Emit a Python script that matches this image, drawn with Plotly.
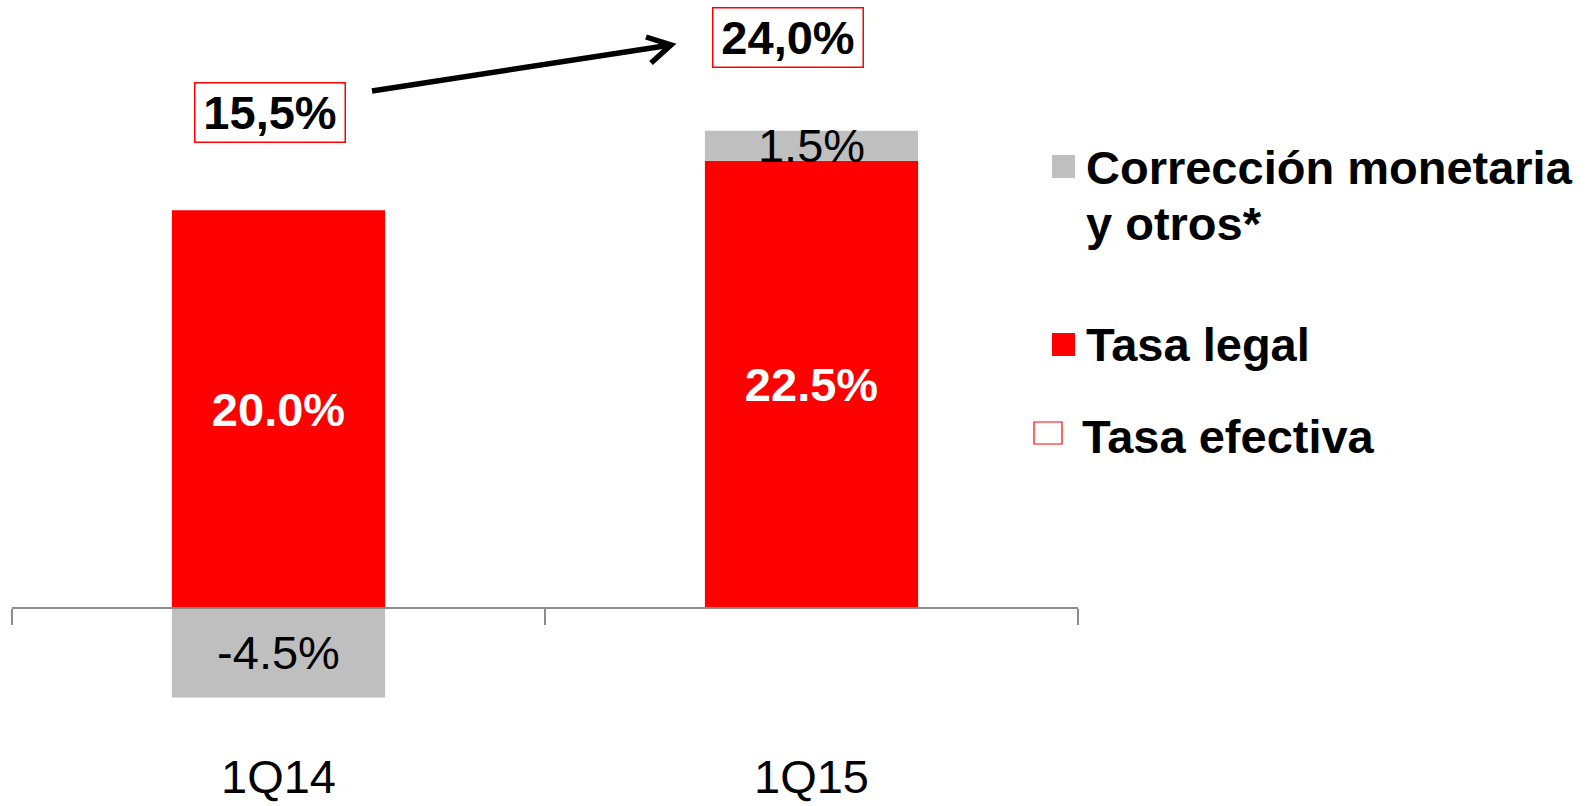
import plotly.graph_objects as go

# Data
periodos = ["1Q14", "1Q15"]
tasa_legal = [20.0, 22.5]
correccion = [-4.5, 1.5]
tasa_efectiva = [15.5, 24.0]

W, H = 1594, 806
PLOT_L, PLOT_R = 12, 1078
FONT = "Liberation Sans, Arial, sans-serif"
FS = 47
RED = "#FF0000"
GREY = "#BFBFBF"
AXIS = "#8C8C8C"

y_min, y_max = -9.96, 30.58

fig = go.Figure()
fig.add_trace(go.Bar(
    x=periodos, y=tasa_legal, name="Tasa legal",
    marker=dict(color=RED, line=dict(width=0)),
    texttemplate="<b>%{y:.1f}%</b>", textposition="inside",
    insidetextanchor="middle", constraintext="none",
    textfont=dict(color="white", size=FS, family=FONT),
    showlegend=False, hoverinfo="skip",
))
fig.add_trace(go.Bar(
    x=periodos, y=correccion, name="Corrección monetaria y otros*",
    marker=dict(color=GREY, line=dict(width=0)),
    texttemplate="%{y:.1f}%", textposition="inside",
    insidetextanchor="middle", constraintext="none",
    textfont=dict(color="black", size=FS, family=FONT),
    showlegend=False, hoverinfo="skip",
))


def px_x(p):
    # pixel column -> paper fraction of the plot area
    return (p - PLOT_L) / (PLOT_R - PLOT_L)


def px_y(p):
    return 1 - p / H


shapes = []
annotations = []

# effective-rate boxes
box_y = [24.9, 28.7]
for i, (p, v) in enumerate(zip(periodos, tasa_efectiva)):
    label = f"{v:.1f}".replace(".", ",") + "%"
    annotations.append(dict(
        x=p, y=box_y[i], xref="x", yref="y", text=f"<b>{label}</b>",
        showarrow=False, xshift=-9 if i == 0 else -24,
        font=dict(size=FS, color="black", family=FONT),
        bordercolor=RED, borderwidth=1.5, borderpad=2,
        width=145, height=54, bgcolor="white",
    ))

# arrow between the two effective rates
x0, y0, x1, y1 = 372, 91, 671, 45
shapes.append(dict(type="line", xref="paper", yref="paper",
                   x0=px_x(x0), y0=px_y(y0), x1=px_x(x1), y1=px_y(y1),
                   line=dict(color="black", width=5.5)))
shapes.append(dict(type="path", xref="paper", yref="paper",
                   path=f"M {px_x(646)} {px_y(37)} L {px_x(671)} {px_y(45)} L {px_x(651)} {px_y(63)}",
                   line=dict(color="black", width=5.5)))

# category labels
for p in periodos:
    annotations.append(dict(
        x=p, y=px_y(776), xref="x", yref="paper", text=p, showarrow=False,
        yanchor="middle", font=dict(size=FS, color="black", family=FONT),
    ))

# legend
shapes.append(dict(type="rect", xref="paper", yref="paper",
                   x0=px_x(1052), x1=px_x(1075), y0=px_y(155), y1=px_y(178),
                   fillcolor=GREY, line=dict(width=0)))
shapes.append(dict(type="rect", xref="paper", yref="paper",
                   x0=px_x(1052), x1=px_x(1075), y0=px_y(333), y1=px_y(356),
                   fillcolor=RED, line=dict(width=0)))
shapes.append(dict(type="rect", xref="paper", yref="paper",
                   x0=px_x(1034), x1=px_x(1062), y0=px_y(422), y1=px_y(444),
                   fillcolor="white", line=dict(color=RED, width=1.2)))

legend_items = [
    ("<b>Corrección monetaria</b>", 1084, 168),
    ("<b>y otros*</b>", 1084, 224),
    ("<b>Tasa legal</b>", 1084, 344),
    ("<b>Tasa efectiva</b>", 1080, 437),
]
for txt, lx, ly in legend_items:
    annotations.append(dict(
        x=px_x(lx), y=px_y(ly), xref="paper", yref="paper", text=txt,
        showarrow=False, xanchor="left", yanchor="middle",
        font=dict(size=FS, color="black", family=FONT),
    ))

zero_pos = (0 - y_min) / (y_max - y_min)

fig.update_layout(
    width=W, height=H, autosize=False,
    margin=dict(l=PLOT_L, r=W - PLOT_R, t=0, b=0, pad=0),
    paper_bgcolor="white", plot_bgcolor="white",
    barmode="relative", bargap=0.6,
    font=dict(family=FONT, size=FS, color="black"),
    shapes=shapes, annotations=annotations,
    xaxis=dict(
        type="category", range=[-0.5, 1.5], anchor="free", position=zero_pos,
        showline=True, linecolor=AXIS, linewidth=2,
        ticks="outside", tickson="boundaries", ticklen=16, tickwidth=2,
        tickcolor=AXIS, showticklabels=False, showgrid=False, zeroline=False,
    ),
    yaxis=dict(range=[y_min, y_max], visible=False, showgrid=False, zeroline=False),
)

fig.write_html("out.html")
